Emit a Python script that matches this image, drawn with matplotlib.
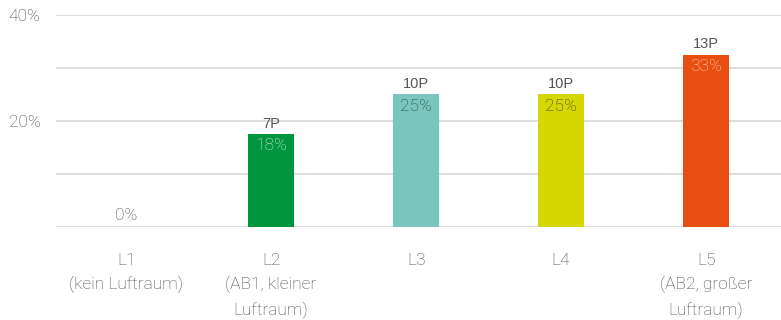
import math
import matplotlib
matplotlib.use("Agg")
import matplotlib.pyplot as plt

categories = ["L1\n(kein Luftraum)", "L2\n(AB1, kleiner\nLuftraum)", "L3", "L4",
              "L5\n(AB2, großer\nLuftraum)"]
persons = [0, 7, 10, 10, 13]
total = 40
shares = [p / total * 100 for p in persons]
bar_colors = ["#9e9e9e", "#009640", "#7ac6be", "#d4d800", "#e84e0f"]
pct_colors = ["#4a4a4a", "#d2eedb", "#24403d", "#3d3d08", "#fcd6c4"]

W, H = 781, 320
fig = plt.figure(figsize=(W / 100, H / 100), dpi=100)
ax = fig.add_axes([56 / W, (H - 227) / H, (W - 56) / W, (227 - 15) / H])

light = dict(family="Roboto", weight="light")
text_color = "#484848"

xs = list(range(len(categories)))
ax.bar(xs, shares, width=0.317, color=bar_colors, zorder=3)

ax.set_ylim(0, 40)
ax.set_xlim(-0.483, 4.517)
ax.grid(axis="y", color="#dddddd", linewidth=1.5, zorder=0)
ax.set_yticks([0, 10, 20, 30, 40])
ax.set_yticklabels(["", "", "20%", "", "40%"], fontsize=12.5, color=text_color, **light)
ax.tick_params(axis="y", length=0, pad=11)
ax.set_xticks(xs)
ax.set_xticklabels(categories, fontsize=12.5, color=text_color, linespacing=1.6, **light)
ax.tick_params(axis="x", length=0, pad=19)
for s in ax.spines.values():
    s.set_visible(False)

for x, p, v, c in zip(xs, persons, shares, pct_colors):
    pct = f"{math.floor(v + 0.5)}%"
    if p == 0:
        ax.annotate(pct, (x, v), xytext=(0, 3), textcoords="offset points",
                    ha="center", va="bottom", fontsize=12.5, color=c, **light)
        continue
    ax.annotate(f"{p}P", (x, v), xytext=(0, 2.5), textcoords="offset points",
                ha="center", va="bottom", fontsize=10.5, color="#555555",
                family="Liberation Sans")
    ax.annotate(pct, (x, v), xytext=(0, -3), textcoords="offset points",
                ha="center", va="top", fontsize=12.5, color=c, zorder=4, **light)

fig.savefig("out.png", dpi=100)
